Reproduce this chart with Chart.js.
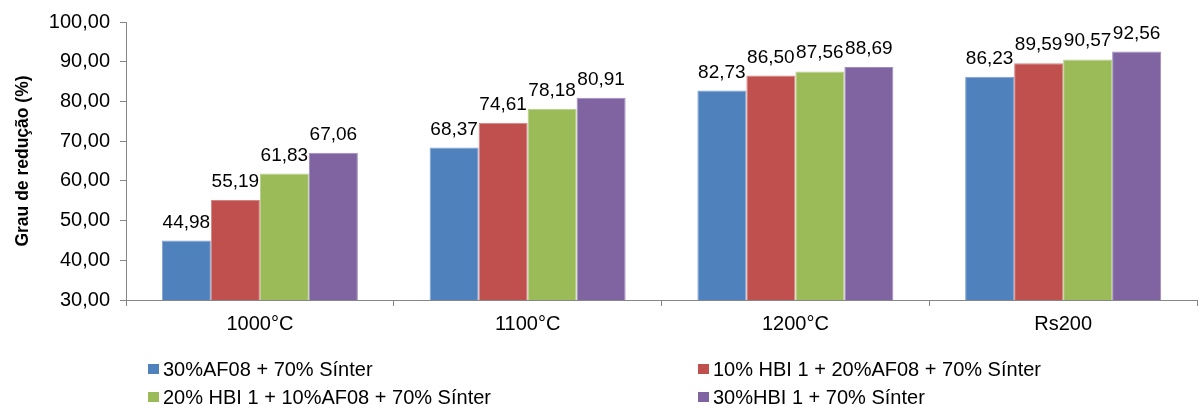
<!DOCTYPE html>
<html lang="pt">
<head>
<meta charset="utf-8">
<title>Grau de redução</title>
<script src="https://cdn.jsdelivr.net/npm/chart.js@4"></script>
<style>
  html, body { margin: 0; padding: 0; background: #ffffff; }
  #wrap { width: 1199px; height: 405px; }
</style>
</head>
<body>
<div id="wrap"><canvas id="c" width="1199" height="405"></canvas></div>
<script>
// Temperatures / conditions tested
const categories = ['1000°C', '1100°C', '1200°C', 'Rs200'];

// Degree of reduction (%) for each burden mix
const serie30AF08 = [44.98, 68.37, 82.73, 86.23];
const serie10HBI = [55.19, 74.61, 86.50, 89.59];
const serie20HBI = [61.83, 78.18, 87.56, 90.57];
const serie30HBI = [67.06, 80.91, 88.69, 92.56];

const seriesLabels = [
  '30%AF08 + 70% Sínter',
  '10% HBI 1 + 20%AF08 + 70% Sínter',
  '20% HBI 1 + 10%AF08 + 70% Sínter',
  '30%HBI 1 + 70% Sínter'
];

const yTicks = [30, 40, 50, 60, 70, 80, 90, 100];

const FONT = '"Liberation Sans", Arial, Helvetica, sans-serif';
const AXIS = '#868686';
const fills = ['#4F81BD', '#C0504D', '#9BBB59', '#8064A2'];
const edges = ['#7FA1CF', '#D48583', '#B7CF88', '#A18BBE'];

const fmt = v => v.toFixed(2).replace('.', ',');

// Values written above every bar
const valueLabels = {
  id: 'valueLabels',
  afterDatasetsDraw(chart) {
    const ctx = chart.ctx;
    ctx.save();
    ctx.font = '19px ' + FONT;
    ctx.fillStyle = '#000000';
    ctx.textAlign = 'center';
    ctx.textBaseline = 'alphabetic';
    chart.data.datasets.forEach((ds, i) => {
      chart.getDatasetMeta(i).data.forEach((bar, j) => {
        ctx.fillText(fmt(ds.data[j]), bar.x, bar.y - 13);
      });
    });
    ctx.restore();
  }
};

// Two-column legend under the axis
const gridLegend = {
  id: 'gridLegend',
  afterDraw(chart) {
    const ctx = chart.ctx;
    const area = chart.chartArea;
    const cols = [area.left + 22, area.left + 572];
    const rows = [area.bottom + 69, area.bottom + 97];
    ctx.save();
    ctx.font = '20px ' + FONT;
    ctx.textBaseline = 'middle';
    ctx.textAlign = 'left';
    chart.data.datasets.forEach((ds, i) => {
      const x = cols[i % 2];
      const y = rows[Math.floor(i / 2)];
      ctx.fillStyle = ds.backgroundColor;
      ctx.fillRect(x, y - 5, 11, 10);
      ctx.fillStyle = '#000000';
      ctx.fillText(ds.label, x + 15, y + 1);
    });
    ctx.restore();
  }
};

const seriesData = [serie30AF08, serie10HBI, serie20HBI, serie30HBI];

new Chart(document.getElementById('c'), {
  type: 'bar',
  data: {
    labels: categories,
    datasets: seriesData.map((d, i) => ({
      label: seriesLabels[i],
      data: d,
      backgroundColor: fills[i],
      borderColor: edges[i],
      borderWidth: 1,
      categoryPercentage: 0.732,
      barPercentage: 1.0
    }))
  },
  options: {
    responsive: false,
    animation: false,
    layout: { padding: { top: 21, right: 2, left: 0, bottom: 0 } },
    plugins: {
      legend: { display: false },
      tooltip: { enabled: false }
    },
    scales: {
      x: {
        afterFit(scale) { scale.height = 105; },
        grid: {
          drawOnChartArea: false,
          drawTicks: true,
          tickLength: 6,
          color: AXIS,
          offset: true
        },
        border: { display: true, color: AXIS, width: 1 },
        ticks: {
          color: '#000000',
          font: { family: FONT, size: 20 },
          padding: 6,
          maxRotation: 0
        }
      },
      y: {
        min: 30,
        max: 100,
        afterFit(scale) { scale.width = 126; },
        afterBuildTicks(scale) { scale.ticks = yTicks.map(v => ({ value: v })); },
        grid: {
          drawOnChartArea: false,
          drawTicks: true,
          tickLength: 6,
          color: AXIS
        },
        border: { display: true, color: AXIS, width: 1 },
        ticks: {
          color: '#000000',
          font: { family: FONT, size: 20 },
          padding: 10,
          callback: v => fmt(v)
        },
        title: {
          display: true,
          text: 'Grau de redução (%)',
          color: '#000000',
          font: { family: FONT, size: 17.5, weight: 'bold' },
          padding: { top: 13, bottom: 0 }
        }
      }
    }
  },
  plugins: [valueLabels, gridLegend]
});
</script>
</body>
</html>
